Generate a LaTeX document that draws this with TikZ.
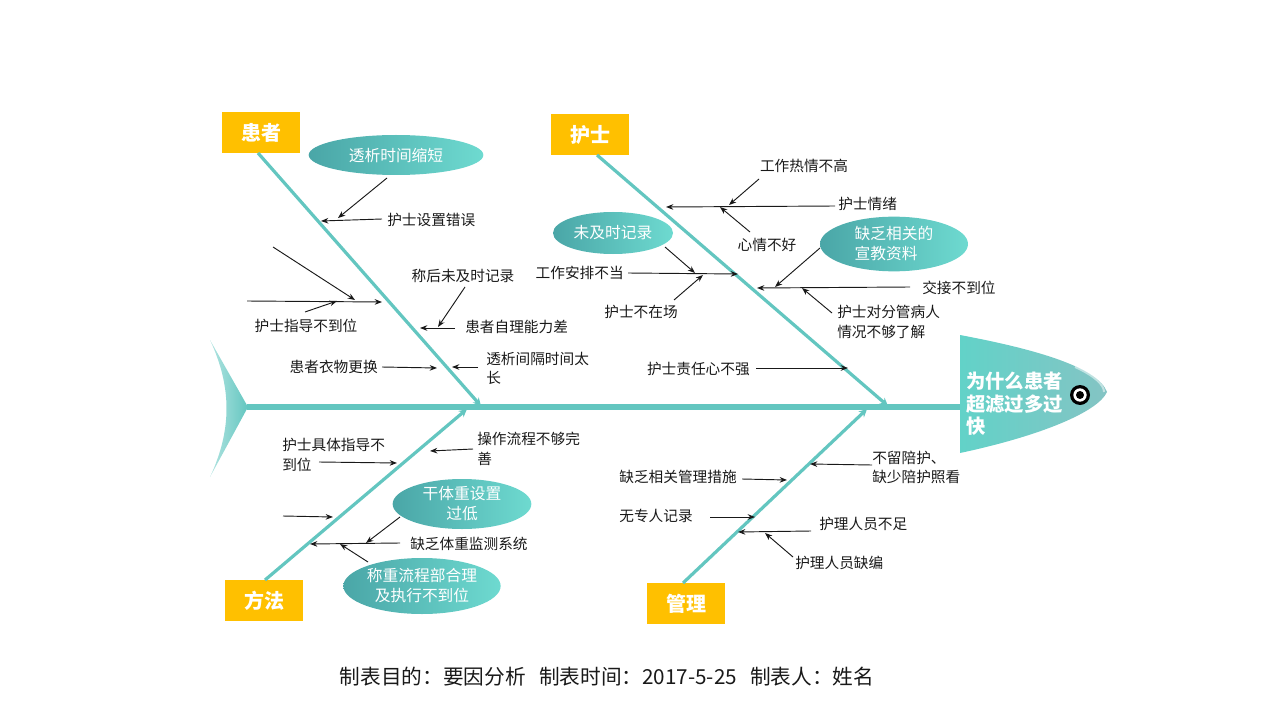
\documentclass[tikz,border=0pt]{standalone}
\usepackage{fontspec}
\setmainfont{Noto Sans CJK SC}
\usetikzlibrary{arrows.meta,shapes.geometric}
\definecolor{teal1}{RGB}{99,198,192}
\definecolor{orangebox}{RGB}{255,192,0}
\definecolor{ovalL}{RGB}{74,166,167}
\definecolor{ovalR}{RGB}{110,218,208}
\definecolor{headL}{RGB}{98,210,200}
\definecolor{headR}{RGB}{132,196,196}
\definecolor{tailLight}{RGB}{178,228,225}
\definecolor{txt}{RGB}{25,25,25}
\tikzset{
  spine/.style={draw=teal1, line width=3.8pt},
  bone/.style={draw=teal1, line width=2.4pt, -{Stealth[length=6pt,width=6pt]}},
  arr/.style={draw=txt, line width=0.7pt, -{Stealth[length=5.5pt,width=4.2pt]}},
  lbl/.style={font=\fontsize{11}{14.5}\selectfont, inner sep=0pt, text=txt, align=left},
  catbox/.style={rectangle, fill=orangebox, text=white, font=\fontsize{15}{18}\selectfont\bfseries,
     minimum width=58.5pt, minimum height=31pt, inner sep=0pt},
  oval/.style={ellipse, left color=ovalL, right color=ovalR, draw=none, text=white,
     font=\fontsize{11.8}{15}\selectfont, inner sep=0pt, align=center}
}
\begin{document}
\begin{tikzpicture}[x=0.75pt,y=-0.75pt]
\useasboundingbox (0,0) rectangle (1280,720);

% ---- tail
\path[left color=tailLight, right color=teal1]
  (210,340) -- (248,407) -- (210,477) .. controls (232,430) and (232,387) .. (210,340) -- cycle;

% ---- head
\path[left color=headL, right color=headR]
  (960,335) .. controls (1040,350) and (1098,368) .. (1107,392)
  .. controls (1098,412) and (1040,436) .. (960,453) -- cycle;
\draw[white, opacity=0.5, line width=1.5pt] (1075,367) .. controls (1095,376) and (1104,385) .. (1104,392);
\node[circle, fill=black, minimum size=15pt, inner sep=0pt] (eyeO) at (1080,395) {};
\node[circle, fill=white, minimum size=10pt, inner sep=0pt] (eyeM) at (1080,395) {};
\node[circle, fill=black, minimum size=6pt, inner sep=0pt] (eyeI) at (1080,395) {};
\node[anchor=west, inner sep=0pt, text=white, align=left,
      font=\fontsize{14.5}{17}\selectfont\bfseries] (headtxt) at (966,404)
      {为什么患者\\超滤过多过\\快};

% ---- spine
\coordinate (tailTip) at (247,407);
\coordinate (headL) at (960,407);
\draw[spine] (tailTip) -- (headL);

% ---- category boxes
\node[catbox] (cHZ) at (261,132.5) {患者};
\node[catbox] (cHS) at (590,134.5) {护士};
\node[catbox] (cFF) at (264,600.5) {方法};
\node[catbox] (cGL) at (686,603.5) {管理};

% ---- bones
\coordinate (b1s) at (258,153); \coordinate (b1e) at (481,406);
\coordinate (b2s) at (597,155); \coordinate (b2e) at (888,406);
\coordinate (b3s) at (265,580); \coordinate (b3e) at (467,409);
\coordinate (b4s) at (683,583); \coordinate (b4e) at (867,409);
\draw[bone] (b1s) -- (b1e);
\draw[bone] (b2s) -- (b2e);
\draw[bone] (b3s) -- (b3e);
\draw[bone] (b4s) -- (b4e);

% ---- ovals
\node[oval, minimum width=131pt, minimum height=30pt] (E1) at (396,155) {透析时间缩短};
\node[oval, minimum width=90pt, minimum height=31.5pt] (E2) at (613,233) {未及时记录};
\node[oval, minimum width=111pt, minimum height=41pt, align=left] (E3) at (894,244) {缺乏相关的\\宣教资料};
\node[oval, minimum width=104pt, minimum height=37.5pt] (E4) at (462,504) {干体重设置\\过低};
\node[oval, minimum width=118pt, minimum height=42pt] (E5) at (422,586) {称重流程部合理\\及执行不到位};

% ---- labels 患者
\node[lbl, anchor=west] (L1) at (387,220) {护士设置错误};
\node[lbl] (L2) at (306,326) {护士指导不到位};
\node[lbl] (L3) at (463,276) {称后未及时记录};
\node[lbl, anchor=west] (L4) at (465,327) {患者自理能力差};
\node[lbl, anchor=east] (L5) at (378,367) {患者衣物更换};
\node[lbl, anchor=west] (L6) at (486,368.5) {透析间隔时间太\\长};
% ---- labels 护士
\node[lbl] (N1) at (804,166) {工作热情不高};
\node[lbl, anchor=west] (N2) at (838,204) {护士情绪};
\node[lbl] (N3) at (767,245) {心情不好};
\node[lbl, anchor=east] (N4) at (624,273) {工作安排不当};
\node[lbl] (N5) at (641,312) {护士不在场};
\node[lbl, anchor=west] (N6) at (922,288) {交接不到位};
\node[lbl, anchor=west] (N7) at (837,322) {护士对分管病人\\情况不够了解};
\node[lbl, anchor=east] (N8) at (750,369) {护士责任心不强};
% ---- labels 方法
\node[lbl, anchor=west] (M1) at (282,455) {护士具体指导不\\到位};
\node[lbl, anchor=west] (M2) at (477,449) {操作流程不够完\\善};
\node[lbl, anchor=west] (M3) at (410,544) {缺乏体重监测系统};
% ---- labels 管理
\node[lbl, anchor=west] (G1) at (872,467.5) {不留陪护、\\缺少陪护照看};
\node[lbl, anchor=east] (G2) at (737,477) {缺乏相关管理措施};
\node[lbl, anchor=east] (G3) at (693,516) {无专人记录};
\node[lbl, anchor=west] (G4) at (819,524) {护理人员不足};
\node[lbl, anchor=west] (G5) at (795,563) {护理人员缺编};

% ---- arrow end points
\foreach \n/\x/\y in {
  a1s/387/178, a1e/338/218, a2s/382/219, a2e/321/221, a3s/273/247, a3e/355/300,
  a4s/247/301, a4e/382/302, a5s/305/312, a5e/337/301, a6s/465/287, a6e/438/327,
  a7s/455/328, a7e/420/328, a8s/382/367, a8e/437/368, a9s/478/367, a9e/452/367,
  a10s/759/179, a10e/729/205, a11s/835/206, a11e/666/207, a12s/750/232, a12e/720/207,
  a13s/665/247, a13e/695/273, a14s/628/273, a14e/738/274, a15s/674/300, a15e/703/275,
  a16s/820/248, a16e/775/287, a17s/910/287, a17e/757/288, a18s/832/313, a18e/802/288,
  a19s/756/368, a19e/848/368,
  a20s/319/462, a20e/397/463, a21s/473/449, a21e/430/451, a22s/283/516, a22e/333/517,
  a23s/400/517, a23e/366/543, a24s/400/543, a24e/310/544, a25s/368/562, a25e/340/544,
  a26s/872/465, a26e/810/464, a27s/742/479, a27e/787/480, a28s/710/517, a28e/755/517,
  a29s/811/531, a29e/738/532, a30s/793/557, a30e/765/533}
  \coordinate (\n) at (\x,\y);

\foreach \i in {1,...,30} \draw[arr] (a\i s) -- (a\i e);

% ---- footer
\node[inner sep=0pt, text=txt, font=\fontsize{15.5}{18}\selectfont] (footer) at (607,677)
  {制表目的：要因分析\hspace{10pt}制表时间：2017-5-25\hspace{10pt}制表人：姓名};
\end{tikzpicture}
\end{document}
